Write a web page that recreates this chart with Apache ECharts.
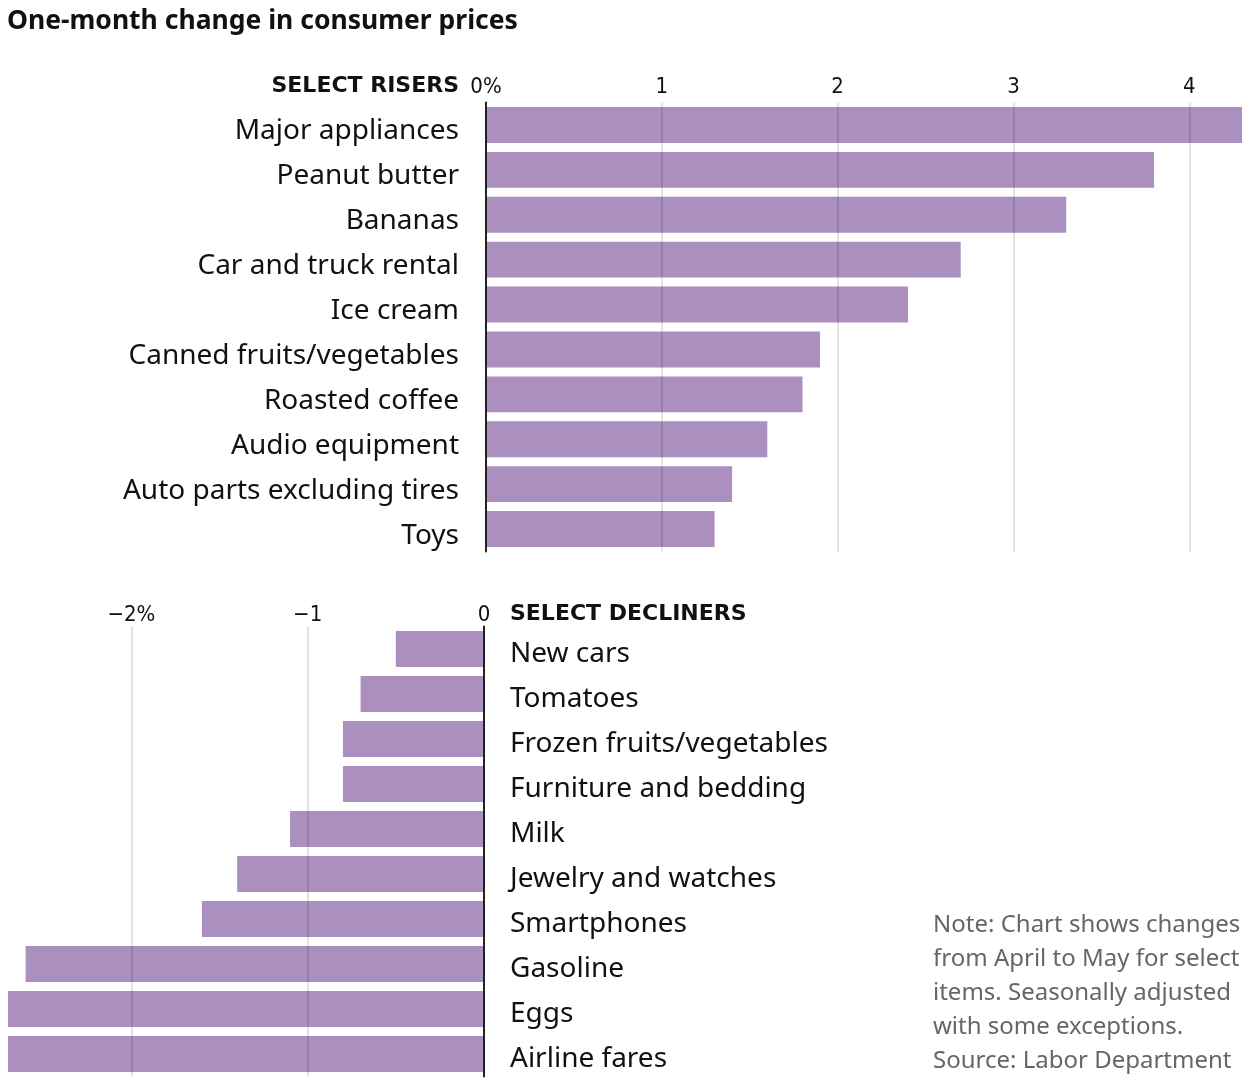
<!DOCTYPE html>
<html>
<head>
<meta charset="utf-8">
<script src="https://cdn.jsdelivr.net/npm/echarts@6/dist/echarts.min.js"></script>
<style>
  html, body { margin: 0; padding: 0; background: #fff; }
  #chart { width: 1246px; height: 1080px; }
</style>
</head>
<body>
<div id="chart"></div>
<script>
var risers = [
    "Major appliances",
    "Peanut butter",
    "Bananas",
    "Car and truck rental",
    "Ice cream",
    "Canned fruits/vegetables",
    "Roasted coffee",
    "Audio equipment",
    "Auto parts excluding tires",
    "Toys"
]
var riserValues = [4.3, 3.8, 3.3, 2.7, 2.4, 1.9, 1.8, 1.6, 1.4, 1.3]

var decliners = [
    "New cars",
    "Tomatoes",
    "Frozen fruits/vegetables",
    "Furniture and bedding",
    "Milk",
    "Jewelry and watches",
    "Smartphones",
    "Gasoline",
    "Eggs",
    "Airline fares"
]
var declinerValues = [-0.5, -0.7, -0.8, -0.8, -1.1, -1.4, -1.6, -2.6, -2.7, -2.7]

var riserTicks = [0, 1, 2, 3, 4]
var riserTickLabels = ["0%", "1", "2", "3", "4"]
var declinerTicks = [-2, -1, 0]
var declinerTickLabels = ["\u22122%", "\u22121", "0"]

var noteLines = [
    "Note: Chart shows changes",
    "from April to May for select",
    "items. Seasonally adjusted",
    "with some exceptions.",
    "Source: Labor Department"
]

var barColor = "#ab8fbe"
var font = "'Noto Sans'"
var narrow = "'Liberation Sans Narrow', 'DejaVu Sans Condensed', sans-serif"

var tickFormatter = function (ticks, labels) {
    return function (v) {
        var i = ticks.indexOf(Math.round(v * 1000) / 1000)
        return i === -1 ? "" : labels[i]
    }
}

var chart = echarts.init(document.getElementById("chart"))

var valueAxis = function (gridIndex, min, max, ticks, labels) {
    return {
        type: "value",
        gridIndex: gridIndex,
        position: "top",
        min: min,
        max: max,
        splitNumber: gridIndex === 0 ? 4 : 3,
        z: 5,
        axisLine: { show: false },
        axisTick: { show: false },
        axisLabel: {
            margin: gridIndex === 0 ? 4 : 0,
            fontSize: 22,
            color: "#111",
            fontFamily: narrow,
            showMinLabel: gridIndex === 0,
            showMaxLabel: gridIndex === 1,
            formatter: tickFormatter(ticks, labels)
        },
        splitLine: {
            show: true,
            showMinLine: gridIndex === 0,
            showMaxLine: gridIndex === 1,
            lineStyle: { color: "rgba(0,0,0,0.11)", width: 2 }
        }
    }
}

var catAxis = function (gridIndex, data, position) {
    return {
        type: "category",
        gridIndex: gridIndex,
        position: position,
        inverse: true,
        data: data,
        z: 6,
        axisLine: { show: true, onZero: false, lineStyle: { color: "#222", width: 2 } },
        axisTick: { show: false },
        axisLabel: {
            margin: position === "left" ? 27 : 26,
            formatter: function (v) { return "{t|" + v + "}" },
            rich: {
                t: {
                    fontSize: 28,
                    color: "#111",
                    fontFamily: font,
                    padding: [gridIndex === 0 ? 13 : 10, 0, 0, 0]
                }
            }
        }
    }
}

var option = {
    backgroundColor: "#fff",
    animation: false,
    title: {
        text: "One-month change in consumer prices",
        left: 2,
        top: 3,
        textStyle: { fontSize: 26.5, fontWeight: "bold", color: "#111", fontFamily: font }
    },
    grid: [
        { left: 486, right: 4, top: 102.5, height: 449 },
        { left: 8, right: 762, top: 626.5, height: 450 }
    ],
    xAxis: [
        valueAxis(0, 0, 4.3, riserTicks, riserTickLabels),
        valueAxis(1, -2.7, 0, declinerTicks, declinerTickLabels)
    ],
    yAxis: [
        catAxis(0, risers, "left"),
        catAxis(1, decliners, "right")
    ],
    series: [
        {
            type: "bar",
            xAxisIndex: 0,
            yAxisIndex: 0,
            data: riserValues,
            barCategoryGap: "20%",
            itemStyle: { color: barColor }
        },
        {
            type: "bar",
            xAxisIndex: 1,
            yAxisIndex: 1,
            data: declinerValues,
            barCategoryGap: "20%",
            itemStyle: { color: barColor }
        }
    ],
    graphic: [
        {
            type: "text",
            right: 1246 - 459,
            top: 75,
            style: { text: "SELECT RISERS", font: "bold 22px 'DejaVu Sans'", fill: "#111" }
        },
        {
            type: "text",
            left: 510,
            top: 603,
            style: { text: "SELECT DECLINERS", font: "bold 22px 'DejaVu Sans'", fill: "#111" }
        },
        {
            type: "text",
            left: 933,
            top: 908,
            style: {
                text: noteLines.join("\n"),
                font: "24px 'Noto Sans'",
                lineHeight: 34,
                fill: "#666"
            }
        }
    ]
}

chart.setOption(option)
</script>
</body>
</html>
